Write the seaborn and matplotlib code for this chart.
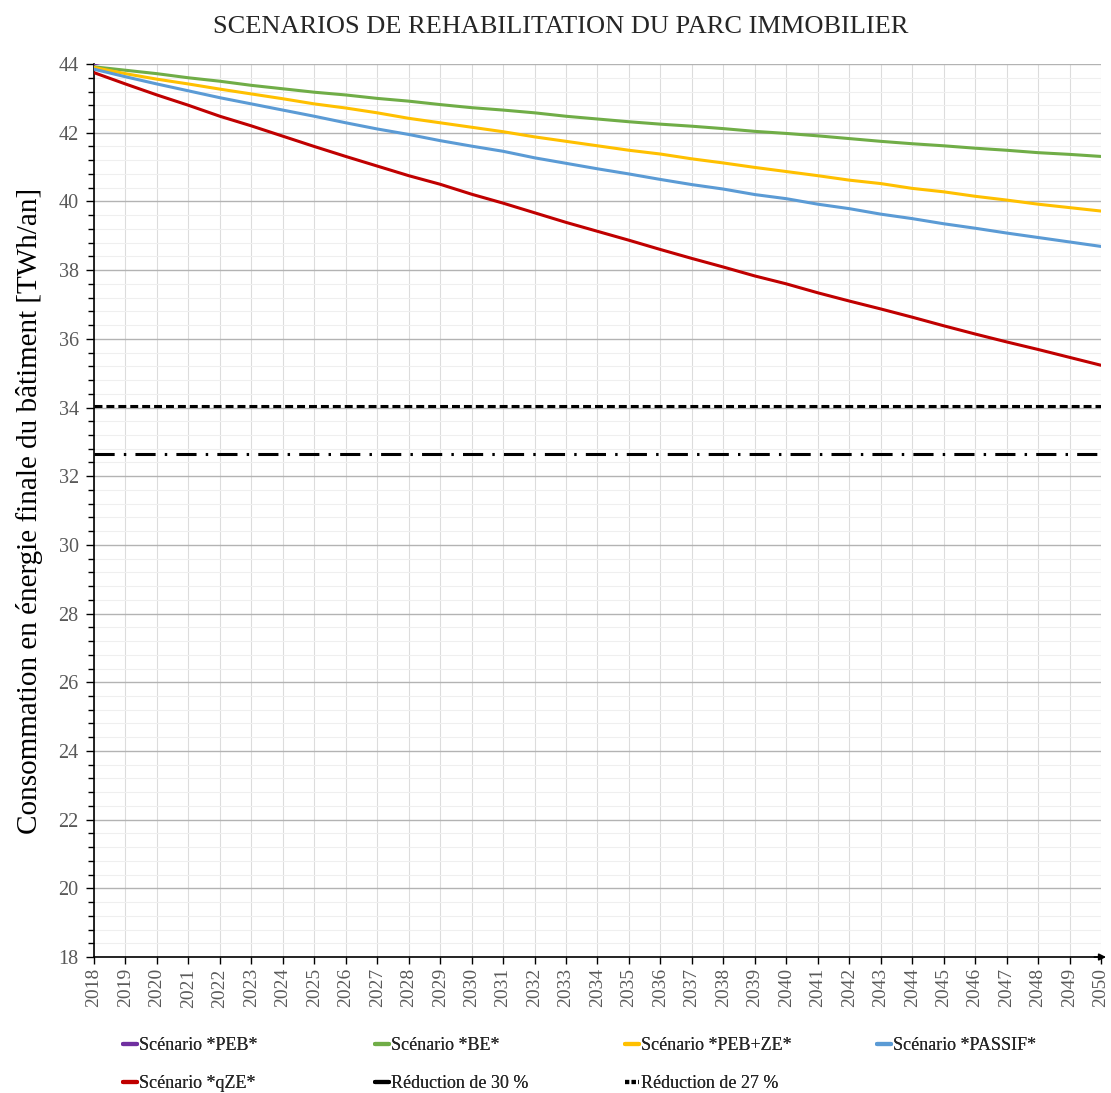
import matplotlib
matplotlib.use("Agg")
import matplotlib.pyplot as plt
from matplotlib.lines import Line2D
from matplotlib.ticker import MultipleLocator
import numpy as np
import pandas as pd
import seaborn as sns

years = list(range(2018, 2051))

# PEB sits above the 44 ceiling, only its start is visible
peb = [44.00, 44.25, 44.5, 44.75, 45.0, 45.2, 45.4, 45.6, 45.8, 46.0, 46.2,
       46.4, 46.6, 46.8, 47.0, 47.2, 47.4, 47.6, 47.8, 48.0, 48.2, 48.4,
       48.6, 48.8, 49.0, 49.2, 49.4, 49.6, 49.8, 50.0, 50.2, 50.4, 50.6]
be = [43.92, 43.82, 43.72, 43.60, 43.50, 43.38, 43.28, 43.18, 43.10, 43.00, 42.92,
      42.82, 42.73, 42.66, 42.58, 42.48, 42.40, 42.32, 42.25, 42.19, 42.12, 42.04,
      41.98, 41.91, 41.83, 41.75, 41.68, 41.62, 41.55, 41.49, 41.42, 41.37, 41.31]
peb_ze = [43.90, 43.72, 43.56, 43.42, 43.27, 43.13, 42.99, 42.84, 42.72, 42.58, 42.42,
          42.29, 42.16, 42.03, 41.88, 41.75, 41.62, 41.49, 41.38, 41.24, 41.12, 40.99,
          40.87, 40.75, 40.62, 40.52, 40.38, 40.28, 40.15, 40.04, 39.92, 39.82, 39.72]
passif = [43.85, 43.63, 43.42, 43.22, 43.02, 42.84, 42.66, 42.48, 42.29, 42.11, 41.95,
          41.77, 41.61, 41.46, 41.27, 41.11, 40.95, 40.80, 40.64, 40.49, 40.36, 40.20,
          40.08, 39.92, 39.79, 39.63, 39.50, 39.35, 39.22, 39.08, 38.95, 38.82, 38.69]
qze = [43.75, 43.42, 43.10, 42.80, 42.48, 42.20, 41.90, 41.60, 41.31, 41.03, 40.75,
       40.50, 40.21, 39.95, 39.67, 39.39, 39.13, 38.87, 38.60, 38.34, 38.09, 37.83,
       37.60, 37.34, 37.10, 36.87, 36.63, 36.38, 36.14, 35.91, 35.69, 35.46, 35.23]
reduction_30 = 32.65
reduction_27 = 34.05

labels = ["Scénario *PEB*", "Scénario *BE*", "Scénario *PEB+ZE*",
          "Scénario *PASSIF*", "Scénario *qZE*"]
colors = ["#7030A0", "#70AD47", "#FFC000", "#5B9BD5", "#C00000"]

rows = []
for lab, vals in zip(labels, [peb, be, peb_ze, passif, qze]):
    for y, v in zip(years, vals):
        rows.append({"annee": y, "conso": v, "scenario": lab})
df = pd.DataFrame(rows)

sns.set_theme(style="white")
plt.rcParams["font.family"] = ["Liberation Serif", "DejaVu Serif"]

fig = plt.figure(figsize=(11.11, 10.93), dpi=100)
ax = fig.add_axes([0.0846, 0.1244, 0.9064, 0.817])

sns.lineplot(data=df, x="annee", y="conso", hue="scenario", hue_order=labels,
             palette=colors, linewidth=2.2, legend=False, ax=ax, zorder=3)

ax.hlines(reduction_27, years[0], years[-1], color="black", linewidth=2.2,
          linestyle=(0, (2.6, 1.3)), zorder=3)
ax.hlines(reduction_30, years[0], years[-1], color="black", linewidth=2.2,
          linestyle=(0, (6.6, 3.0, 0.8, 3.0)), zorder=3)

ax.set_xlim(2018, 2050)
ax.set_ylim(18, 44)
ax.xaxis.set_major_locator(MultipleLocator(1))
ax.yaxis.set_major_locator(MultipleLocator(2))
ax.yaxis.set_minor_locator(MultipleLocator(0.4))

ax.grid(which="major", axis="y", color="#b3b3b3", linewidth=1.0, zorder=0)
ax.grid(which="minor", axis="y", color="#efefef", linewidth=0.8, zorder=0)
ax.grid(which="major", axis="x", color="#dcdcdc", linewidth=0.8, zorder=0)
ax.set_axisbelow(True)

for s in ["top", "right"]:
    ax.spines[s].set_visible(False)
for s in ["left", "bottom"]:
    ax.spines[s].set_color("black")
    ax.spines[s].set_linewidth(1.2)

ax.tick_params(axis="y", which="major", left=True, length=6, width=1,
               color="black", labelsize=14.5, labelcolor="#595959", pad=5)
ax.tick_params(axis="y", which="minor", left=True, length=4, width=1, color="black")
ax.tick_params(axis="x", which="major", bottom=True, length=5, width=1,
               color="black", labelsize=14, labelcolor="#595959",
               labelrotation=90, pad=3)

ax.annotate("", xy=(2050.25, 18), xytext=(2049.7, 18),
            arrowprops=dict(arrowstyle="-|>", color="black", lw=1.2,
                            mutation_scale=10),
            annotation_clip=False)

ax.set_xlabel("")
ax.set_ylabel("Consommation en énergie finale du bâtiment [TWh/an]",
              fontsize=21, color="black", labelpad=11)
fig.suptitle("SCENARIOS DE REHABILITATION DU PARC IMMOBILIER",
             fontsize=19, y=0.985, x=0.505)

# legend: four columns at fixed positions, two rows
legend_cols = [
    ([Line2D([], [], color=colors[0], lw=3), Line2D([], [], color=colors[4], lw=3)],
     ["Scénario *PEB*", "Scénario *qZE*"]),
    ([Line2D([], [], color=colors[1], lw=3), Line2D([], [], color="black", lw=3)],
     ["Scénario *BE*", "Réduction de 30 %"]),
    ([Line2D([], [], color=colors[2], lw=3),
      Line2D([], [], color="black", lw=3, linestyle=(0, (1.0, 0.6)))],
     ["Scénario *PEB+ZE*", "Réduction de 27 %"]),
    ([Line2D([], [], color=colors[3], lw=3)], ["Scénario *PASSIF*"]),
]
col_x = [0.1107, 0.3375, 0.5626, 0.7894]
for (h, n), x in zip(legend_cols, col_x):
    leg = fig.legend(h, n, loc="upper left", bbox_to_anchor=(x, 0.051),
                     frameon=False, fontsize=13, handlelength=0.75,
                     handletextpad=0.15, labelspacing=1.15, borderpad=0,
                     borderaxespad=0)
    for t in leg.get_texts():
        t.set_color("#262626")
    fig.add_artist(leg)

fig.savefig("out.png", dpi=100)
